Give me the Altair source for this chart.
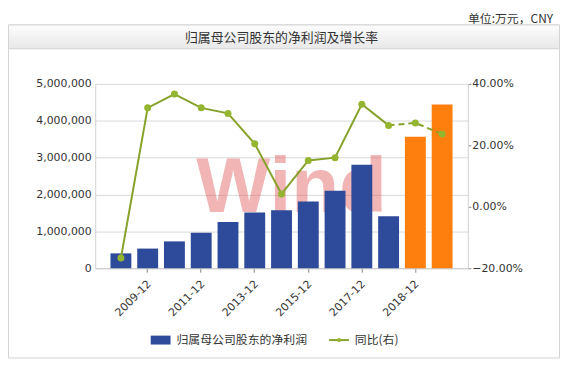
import altair as alt
import pandas as pd

# ---- data ----
periods = ["2008-12", "2009-12", "2010-12", "2011-12", "2012-12", "2013-12", "2014-12",
           "2015-12", "2016-12", "2017-12", "2018-09", "2018-12", "2019-12"]
profit = [403000, 533000, 728000, 962000, 1255000, 1512000, 1575000,
          1812000, 2102000, 2805000, 1407000, 3570000, 4440000]
yoy = [-0.167, 0.322, 0.367, 0.322, 0.304, 0.205, 0.042,
       0.151, 0.160, 0.334, 0.265, 0.273, 0.237]
kinds = ["actual"] * 11 + ["forecast"] * 2

x_labels = ["2009-12", "2011-12", "2013-12", "2015-12", "2017-12", "2018-12"]
left_ticks = [0, 1000000, 2000000, 3000000, 4000000, 5000000]
right_ticks = [-0.2, 0.0, 0.2, 0.4]

title_text = "归属母公司股东的净利润及增长率"
unit_text = "单位:万元，CNY"
legend_bar = "归属母公司股东的净利润"
legend_line = "同比(右)"
watermark = "Wind"

BLUE = "#2E4A9A"
ORANGE = "#FF7F0E"
LINE = "#86A22B"
DOT = "#94B52F"
CJK = "Noto Sans CJK SC"
NUM = "DejaVu Sans"

df = pd.DataFrame({"period": periods, "profit": profit, "yoy": yoy, "kind": kinds})
solid_df = df.iloc[:11]
dash_df = df.iloc[10:]
deco = pd.DataFrame({"k": [0]})

xscale = alt.Scale(type="band", domain=periods, paddingInner=0.22, paddingOuter=0.57)
xaxis = alt.Axis(values=x_labels, labelAngle=-45, labelAlign="right", labelBaseline="middle",
                 labelOffset=2, labelPadding=10, tickSize=4, tickColor="#888888",
                 domainColor="#c8c8c8", grid=False, title=None)


def xenc():
    return alt.X("period:N", scale=xscale, axis=xaxis, sort=periods, bandPosition=0.5)


yleft = alt.Y("profit:Q", scale=alt.Scale(domain=[0, 5000000], nice=False, zero=True),
              axis=alt.Axis(values=left_ticks, format=",d", orient="left", ticks=False,
                            labelPadding=4, grid=True, gridColor="#d9d9d9",
                            domainColor="#d0d0d0", title=None))

yright_scale = alt.Scale(domain=[-0.2, 0.4], nice=False, zero=False)
yright_axis = alt.Axis(values=right_ticks, format=".2%", orient="right", tickSize=3,
                       tickColor="#888888", labelPadding=1, grid=False,
                       domainColor="#d0d0d0", title=None)


def yright():
    return alt.Y("yoy:Q", scale=yright_scale, axis=yright_axis)


# ---- decorations ----
box = alt.Chart(deco).mark_rect(fillOpacity=0, stroke="#d3d3d3", strokeWidth=1).encode(
    x=alt.value(-87.5), x2=alt.value(468.5), y=alt.value(-59.5), y2=alt.value(276.5))

titlebar = alt.Chart(deco).mark_rect(
    fill=alt.Gradient(gradient="linear",
                      stops=[alt.GradientStop(color="#fcfcfc", offset=0),
                             alt.GradientStop(color="#e8e8e8", offset=1)],
                      x1=0, x2=0, y1=0, y2=1),
    stroke="#d3d3d3", strokeWidth=1).encode(
    x=alt.value(-87.5), x2=alt.value(468.5), y=alt.value(-59.5), y2=alt.value(-35.5))

title = alt.Chart(deco).mark_text(text=title_text, font=CJK, fontSize=13, color="#333333",
                                  align="center", baseline="middle").encode(
    x=alt.value(188), y=alt.value(-46))

unit = alt.Chart(deco).mark_text(text=unit_text, font=CJK, fontSize=12, color="#333333",
                                 align="right", baseline="middle").encode(
    x=alt.value(462), y=alt.value(-65))

wm = alt.Chart(deco).mark_text(text=watermark, font="Liberation Sans", fontWeight="bold",
                               fontSize=79, color="#E05050", opacity=0.42,
                               align="left", baseline="alphabetic").encode(
    x=alt.value(102), y=alt.value(129))

# ---- data marks ----
bars = alt.Chart(df).mark_bar().encode(
    x=xenc(), y=yleft,
    color=alt.Color("kind:N", scale=alt.Scale(domain=["actual", "forecast"], range=[BLUE, ORANGE]),
                    legend=None))

line_solid = alt.Chart(solid_df).mark_line(color=LINE, strokeWidth=2).encode(x=xenc(), y=yright())
line_dash = alt.Chart(dash_df).mark_line(color=LINE, strokeWidth=2, strokeDash=[6, 4]).encode(
    x=xenc(), y=yright())
dots = alt.Chart(df).mark_circle(size=50, color=DOT, opacity=1).encode(x=xenc(), y=yright())
linegroup = alt.layer(line_solid, line_dash, dots)

# ---- legend ----
lg_rect = alt.Chart(deco).mark_rect(color=BLUE).encode(
    x=alt.value(56), x2=alt.value(76), y=alt.value(254), y2=alt.value(263))
lg_text1 = alt.Chart(deco).mark_text(text=legend_bar, font=CJK, fontSize=12, color="#333333",
                                     align="left", baseline="middle").encode(
    x=alt.value(82), y=alt.value(258.5))
lg_line = alt.Chart(deco).mark_rule(color=LINE, strokeWidth=2).encode(
    x=alt.value(236), x2=alt.value(256), y=alt.value(258.5))
lg_dot = alt.Chart(deco).mark_circle(size=18, color=DOT, opacity=1).encode(
    x=alt.value(246), y=alt.value(258.5))
lg_text2 = alt.Chart(deco).mark_text(text=legend_line, font=CJK, fontSize=12, color="#333333",
                                     align="left", baseline="middle").encode(
    x=alt.value(262), y=alt.value(258.5))

chart = alt.layer(
    box, titlebar, title, unit, wm, bars, linegroup,
    lg_rect, lg_text1, lg_line, lg_dot, lg_text2
).resolve_scale(y="independent").properties(
    width=376, height=186,
    padding={"left": 88, "top": 75, "right": 93, "bottom": 91},
    autosize=alt.AutoSizeParams(type="none"),
    background="white",
).configure_view(strokeWidth=0).configure_axis(
    labelFont=NUM, labelFontSize=11, labelColor="#333333"
)

chart.save("out.html", embed_options={"renderer": "svg", "actions": False})
